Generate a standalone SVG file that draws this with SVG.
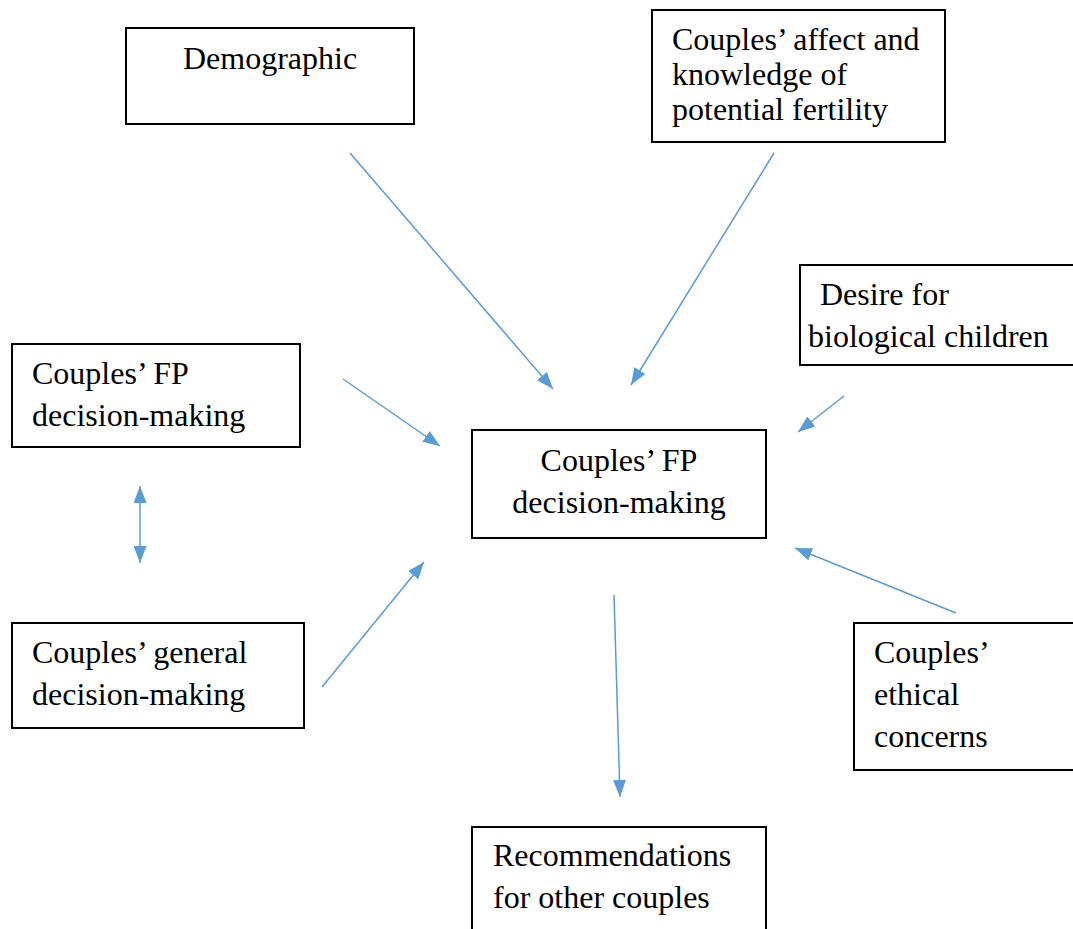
<svg xmlns="http://www.w3.org/2000/svg" width="1073" height="929" viewBox="0 0 1073 929">
<style>
.box{fill:#fff;stroke:#000;stroke-width:2}
.t{font-family:"Liberation Serif","Times New Roman",serif;font-size:32px;fill:#000}
.c{stroke:#5B9BD5;stroke-width:1.5;fill:none}
</style>
<defs>
<marker id="ah" viewBox="0 0 17 13" refX="17" refY="6.5" markerWidth="17" markerHeight="13" markerUnits="userSpaceOnUse" orient="auto-start-reverse">
<path d="M0,0 L17,6.5 L0,13 z" fill="#5B9BD5"/>
</marker>
</defs>
<rect width="1073" height="929" fill="#fff"/>
<g id="demographic"><rect class="box" x="126" y="28" width="288" height="96"/><text class="t" x="183" y="69">Demographic</text></g>
<g id="affect"><rect class="box" x="652" y="10" width="293" height="132"/><text class="t" x="672" y="50">Couples’ affect and</text><text class="t" x="672" y="85">knowledge of</text><text class="t" x="672" y="120">potential fertility</text></g>
<g id="desire"><rect class="box" x="800" y="265" width="290" height="100"/><text class="t" x="820" y="305">Desire for</text><text class="t" x="808" y="347">biological children</text></g>
<g id="fp-left"><rect class="box" x="12" y="344" width="288" height="103"/><text class="t" x="32" y="384">Couples’ FP</text><text class="t" x="32" y="426">decision-making</text></g>
<g id="fp-center"><rect class="box" x="472" y="430" width="294" height="108"/><text class="t" x="619" y="471" text-anchor="middle">Couples’ FP</text><text class="t" x="619" y="513" text-anchor="middle">decision-making</text></g>
<g id="general"><rect class="box" x="12" y="623" width="292" height="105"/><text class="t" x="32" y="663">Couples’ general</text><text class="t" x="32" y="705">decision-making</text></g>
<g id="ethical"><rect class="box" x="854" y="623" width="230" height="147"/><text class="t" x="874" y="663">Couples’</text><text class="t" x="874" y="705">ethical</text><text class="t" x="874" y="747">concerns</text></g>
<g id="recommend"><rect class="box" x="472" y="827" width="294" height="120"/><text class="t" x="493" y="866">Recommendations</text><text class="t" x="493" y="908">for other couples</text></g>
<g id="connectors">
<line class="c" x1="350" y1="153" x2="553" y2="389" marker-end="url(#ah)"/>
<line class="c" x1="774" y1="153" x2="631" y2="385" marker-end="url(#ah)"/>
<line class="c" x1="844" y1="396" x2="798" y2="432" marker-end="url(#ah)"/>
<line class="c" x1="343" y1="379" x2="440" y2="446" marker-end="url(#ah)"/>
<line class="c" x1="322" y1="687" x2="424" y2="562" marker-end="url(#ah)"/>
<line class="c" x1="956" y1="613" x2="795" y2="548" marker-end="url(#ah)"/>
<line class="c" x1="614" y1="595" x2="620" y2="797" marker-end="url(#ah)"/>
<line class="c" x1="140" y1="486" x2="140" y2="563" marker-start="url(#ah)" marker-end="url(#ah)"/>
</g>
</svg>
